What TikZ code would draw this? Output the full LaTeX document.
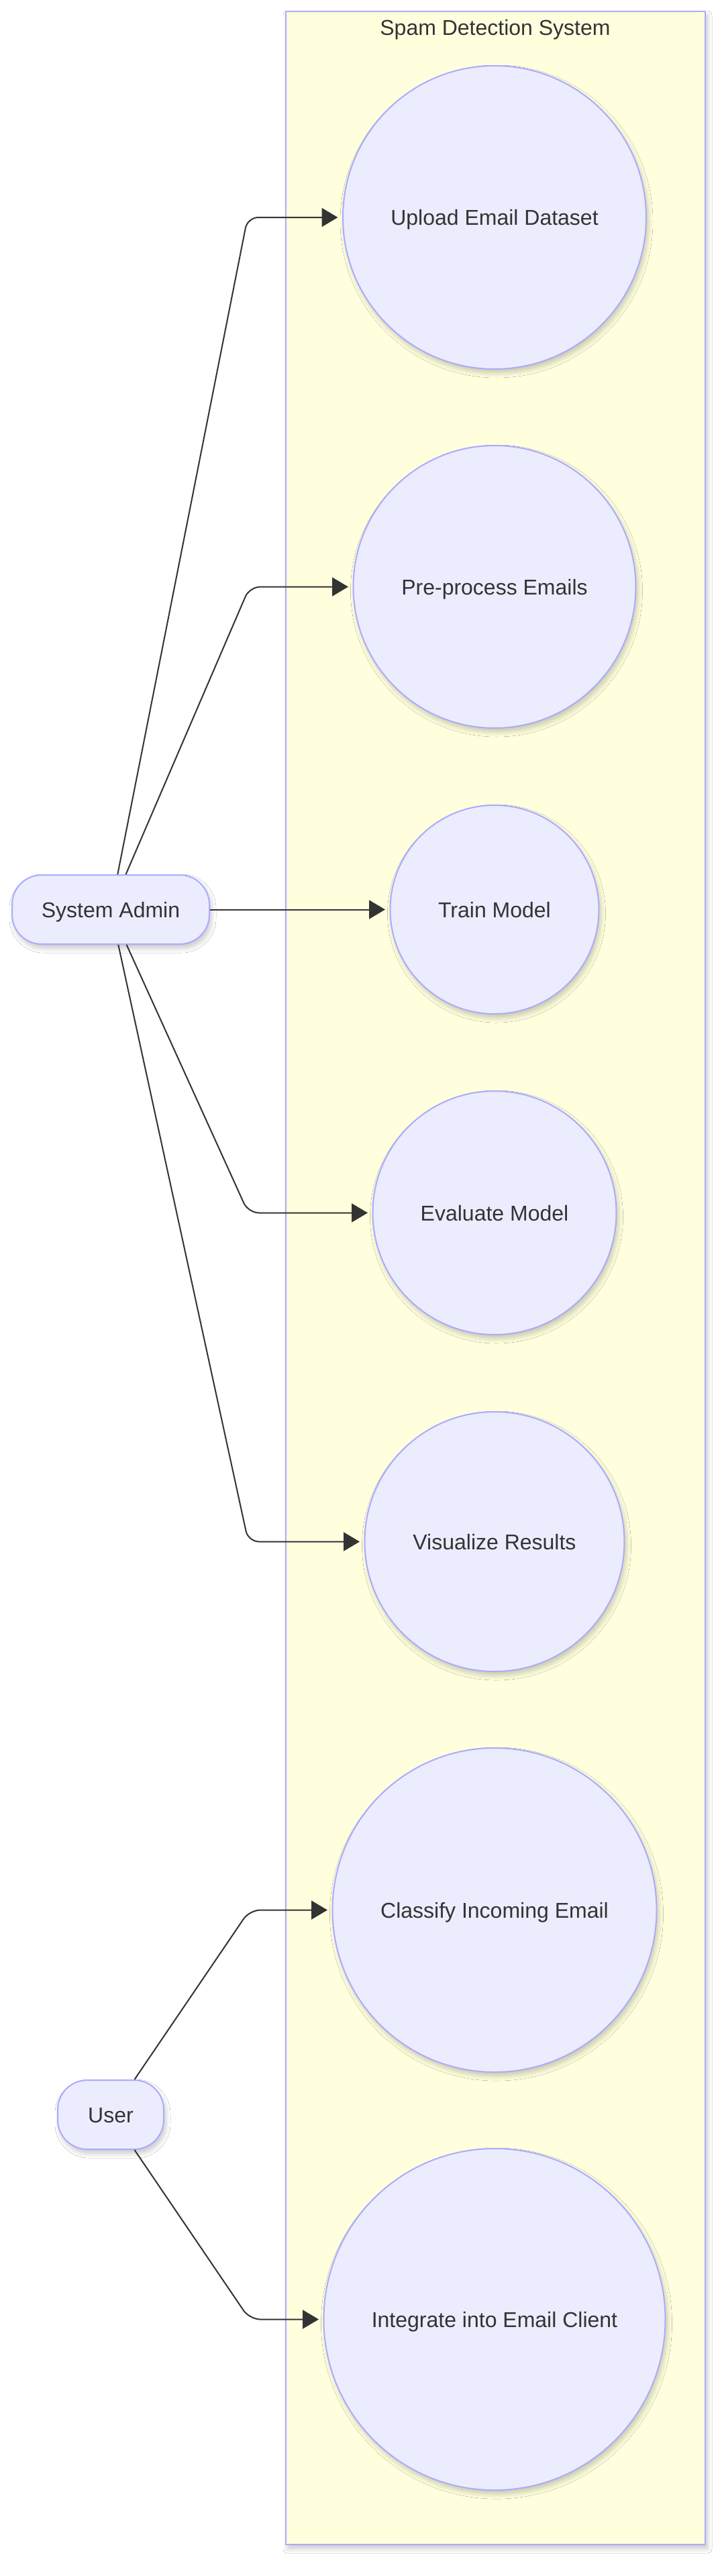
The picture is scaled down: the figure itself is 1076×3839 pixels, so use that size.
\documentclass[tikz,border=0pt]{standalone}
\usepackage{fontspec}
\setmainfont{Liberation Sans}
\usetikzlibrary{arrows.meta,shadows.blur}
\definecolor{nodefill}{HTML}{ECECFF}
\definecolor{nodestroke}{HTML}{ABABFF}
\definecolor{boxfill}{HTML}{FFFFDE}
\definecolor{txt}{HTML}{333333}
\definecolor{edgec}{HTML}{333333}
\begin{document}
\begin{tikzpicture}[x=1pt,y=-1pt,
  every node/.style={font=\fontsize{32}{38}\selectfont, text=txt},
  softshadow/.style={blur shadow={shadow xshift=3pt, shadow yshift=-6pt, shadow blur radius=7pt, shadow blur steps=8, shadow opacity=22}},
  usecase/.style={circle, draw=nodestroke, line width=2pt, fill=nodefill, inner sep=0pt, text height=23pt, text depth=0pt, softshadow},
  actor/.style={rectangle, rounded corners=44pt, draw=nodestroke, line width=2pt, fill=nodefill, minimum height=103pt, inner sep=0pt, text height=23pt, text depth=0pt, softshadow},
  edge/.style={draw=edgec, line width=2pt, rounded corners=16pt, -{Triangle[length=24pt,width=28pt]}, shorten >=6.5pt},
]
\useasboundingbox (0,0) rectangle (1076,3839);
\fill[white] (0,0) rectangle (1076,3839);

% system boundary
\path[draw=nodestroke, line width=2pt, fill=boxfill, softshadow] (426,17) rectangle (1051,3792);
\node[anchor=base] (title) at (738,52) {Spam Detection System};

% use cases
\node[usecase, minimum size=452pt] (up)   at (737,324)    {Upload Email Dataset};
\node[usecase, minimum size=421pt] (pre)  at (737,874.5)  {Pre-process Emails};
\node[usecase, minimum size=311pt] (train) at (737,1355.5) {Train Model};
\node[usecase, minimum size=363pt] (eval) at (737,1807.5) {Evaluate Model};
\node[usecase, minimum size=387pt] (vis)  at (737,2297.5) {Visualize Results};
\node[usecase, minimum size=483pt] (cls)  at (737,2846.5) {Classify Incoming Email};
\node[usecase, minimum size=509pt] (intg) at (737,3456.5) {Integrate into Email Client};

% actors
\node[actor, minimum width=294pt] (admin) at (165,1355.5) {System Admin};
\node[actor, minimum width=158pt] (user)  at (165,3151.5) {User};

% bend points
\coordinate (b1) at (369,324);
\coordinate (b2) at (372,874.5);
\coordinate (b4) at (370,1807.5);
\coordinate (b5) at (370,2297.5);
\coordinate (b6) at (372,2846.5);
\coordinate (b7) at (372,3456.5);

% connectors
\draw[edge] (admin) -- (b1) -- (up);
\draw[edge] (admin) -- (b2) -- (pre);
\draw[edge] (admin) -- (train);
\draw[edge] (admin) -- (b4) -- (eval);
\draw[edge] (admin) -- (b5) -- (vis);
\draw[edge] (user) -- (b6) -- (cls);
\draw[edge] (user) -- (b7) -- (intg);
\end{tikzpicture}
\end{document}
